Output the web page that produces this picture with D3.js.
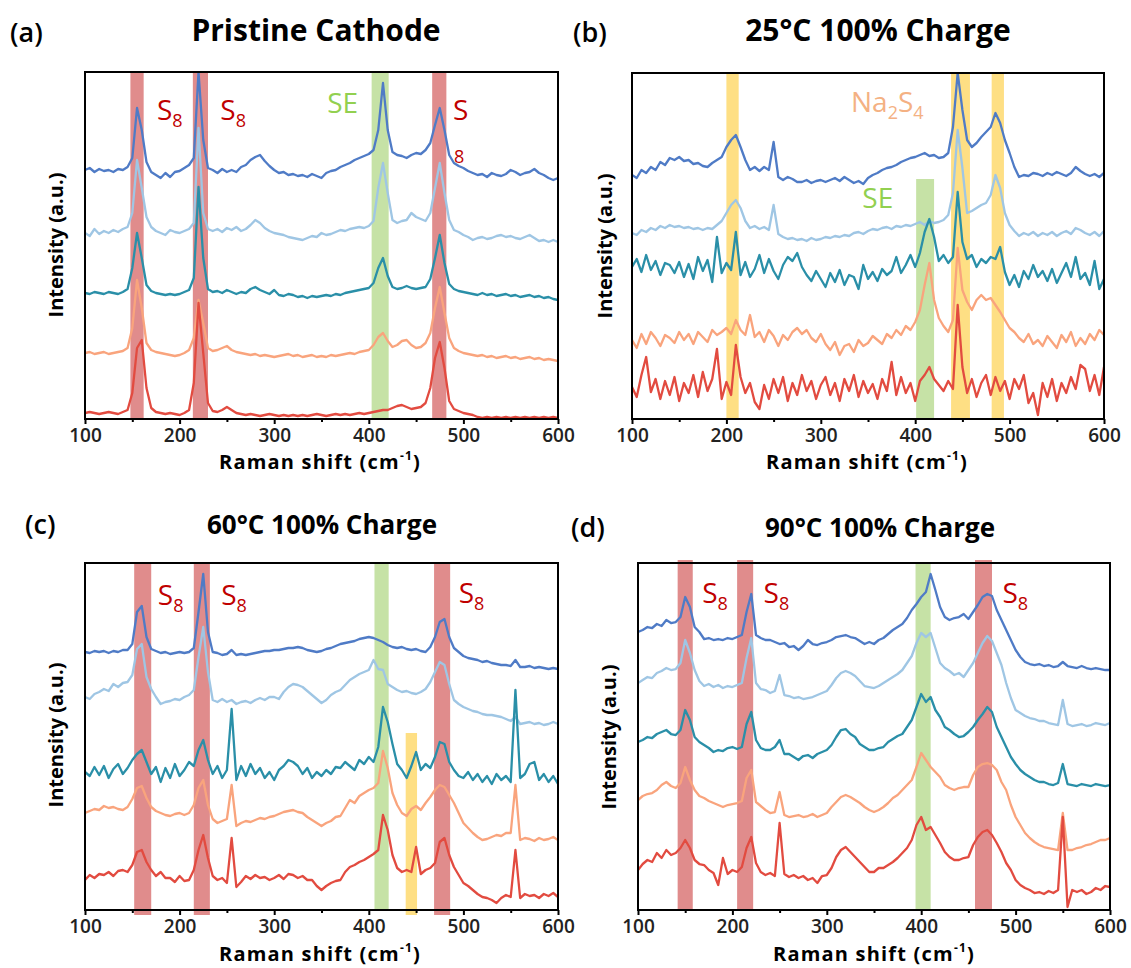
<!DOCTYPE html>
<html>
<head>
<meta charset="utf-8">
<script src="https://cdn.jsdelivr.net/npm/d3@7"></script>
<style>
  body { margin: 0; background: #fff; }
  text { font-family: "Open Sans", "DejaVu Sans", sans-serif; }
</style>
</head>
<body>
<div id="container"></div>
<script>
// Raman spectra, sampled every 5 cm-1 from 100 to 600
let shift = d3.range(100, 601, 5);
let traceColors = ["#4f7bc6", "#9fc6e4", "#2a8fa8", "#f9a47d", "#e24b40"];

// ---- (a) Pristine Cathode
let aDark = [0,2,-2,1,-1,0,-2,1,0,3, 12,62,40,8,-2,-5,-8,-3,-7,-2, -1,2,5,12,98,30,2,0,-3,1,
  -2,0,-2,3,5,10,13,15,9,4, 0,-3,-2,-5,-4,-6,-5,-7,-4,-6, -8,-3,-1,0,3,5,7,10,12,14,
  16,20,40,87,40,18,15,14,12,15, 17,16,20,27,45,62,40,15,7,4, 2,-1,-3,-5,-4,-7,-3,-5,-6,-4,
  0,-2,-5,-3,-2,1,-3,-5,-8,-10, -8];
let aLight = [0,-3,4,-1,2,0,3,1,4,6, 20,73,45,16,6,2,0,-2,3,1, 0,2,4,10,105,20,4,2,4,1,
  5,3,6,2,4,8,13,10,5,2, 0,-1,-2,-4,-5,-6,-7,-5,-3,-4, 0,-2,-1,1,3,2,4,5,6,5,
  7,12,45,70,40,13,10,12,13,20, 16,14,12,20,45,70,40,13,3,1, -2,-4,-7,-5,-4,-6,-5,-3,-2,-4,
  -3,-5,-6,-4,-2,-5,-8,-7,-9,-7, -9];
let aTeal = [0,-1,1,0,-1,1,0,-1,1,4, 25,60,35,8,2,0,-1,-2,-1,-2, -1,1,3,15,106,35,4,1,2,0,
  3,1,-1,1,0,4,6,3,1,-1, 3,-2,-3,-1,-2,-4,-3,-5,-3,-4, -3,-2,-3,-1,-2,0,1,2,3,4,
  5,10,25,35,17,6,4,5,7,5, 4,5,6,14,35,58,30,9,4,2, 1,0,-1,-2,0,-2,-1,-3,-2,-1,
  -3,-2,-4,-3,-2,-4,-3,-5,-4,-6, -7];
let aOrange = [0,1,-1,0,1,-1,0,1,2,5, 25,73,45,10,3,1,0,-1,-2,-3, -2,0,3,15,53,30,5,2,3,5,
  7,3,1,0,-1,-2,-1,-3,-2,-3, -4,-3,-2,-1,-3,-2,-4,-3,-2,-4, -3,-4,-2,-3,-2,-1,0,-1,1,2,
  3,8,16,20,12,6,8,12,13,8, 5,6,10,20,45,66,40,15,5,2, 0,-1,-2,-3,-2,-4,-3,-5,-4,-3,
  -5,-4,-6,-5,-4,-6,-5,-7,-6,-7, -8];
let aRed = [0,1,0,-1,0,1,0,-1,1,3, 20,65,73,25,5,1,0,-1,0,-1, -2,0,3,30,110,60,10,2,1,3,
  6,3,0,-1,-2,-1,-2,-3,-2,-1, -2,-3,-2,-3,-2,-3,-2,-3,-2,-1, -2,-3,-2,-1,-2,-1,-2,-1,0,-1,
  0,1,2,3,3,5,7,8,6,4, 5,6,10,25,55,71,45,12,4,2, 0,-1,-2,-4,-5,-4,-5,-4,-5,-4,
  -5,-4,-5,-4,-5,-4,-5,-4,-5,-4, -5];
let aOffsets = [249, 186, 126, 66, 6];

// ---- (b) 25 C 100% Charge
let bDark = [0,-3,5,2,8,5,13,10,17,15, 18,14,15,11,12,9,8,12,15,18, 28,35,40,28,15,5,8,4,8,5,
  33,-2,-5,-2,-4,-7,-7,-5,-8,-6, -5,-7,-5,-3,-6,-2,-5,-8,-6,-9, -3,0,2,5,7,8,10,13,15,17,
  18,20,22,19,20,17,18,22,48,102, 65,35,28,32,38,43,48,62,52,35, 22,8,-2,0,-1,2,1,-1,2,0,
  3,1,-1,2,8,4,1,-1,1,-2, 2];
let bLight = [0,-2,3,1,5,3,7,5,8,6, 7,5,6,4,5,3,5,4,8,12, 20,28,33,25,12,5,7,4,6,3,
  28,-1,-4,-6,-5,-7,-6,-8,-5,-7, -6,-4,-5,-3,-4,-2,-3,0,1,-1, 2,4,3,5,6,4,7,6,8,7,
  9,11,8,12,10,11,13,18,40,103, 65,20,22,25,28,30,38,58,45,20, 8,2,-3,0,-2,1,-3,0,-2,1,
  -3,0,2,-1,5,3,0,-2,1,-3, 2];
let bTeal = [0,8,-5,12,-3,6,-8,4,2,-6, 5,-10,3,-12,10,-4,7,-15,30,-6, 4,-3,35,-8,5,-10,-2,12,-6,8,
  -4,-12,2,10,6,14,0,-8,-14,-4, -12,-20,-6,-15,-3,-18,-8,-10,-22,2, -12,-5,-14,-2,-8,-4,10,-6,2,12,
  0,14,35,48,30,6,12,4,10,75, 25,8,12,0,8,4,10,8,20,-5, -18,-8,-20,-4,-12,2,-10,-4,-14,-2,
  -16,-6,4,-10,10,-12,-6,-18,6,-22, -12];
let bOrange = [0,-8,6,-4,8,2,-6,5,2,-3, 8,0,6,-4,8,3,-2,10,5,8, 12,6,20,10,5,25,3,8,-2,10,
  4,-6,5,0,8,12,6,10,2,-2, 6,-4,-10,-2,-15,-6,-4,-12,0,-6, -3,4,0,-4,6,2,10,5,14,10,
  18,30,55,77,40,22,14,8,20,92, 50,38,30,40,45,40,42,35,28,20, 12,8,2,-2,6,-4,0,-6,4,-2,
  -8,5,-2,8,-6,2,-4,6,0,10, 5];
let bRed = [0,-10,12,30,-5,8,-12,6,-8,10, -14,4,-6,12,-10,15,-4,8,38,-12, 5,-8,42,10,-6,4,-15,-22,2,-12,
  8,-6,10,-14,4,-8,12,-4,6,-12, 2,10,-8,4,-14,8,-4,12,-10,6, -6,3,-12,8,-4,25,-8,10,-6,4,
  -14,6,12,20,8,2,-4,6,-2,82, 20,-6,8,-10,4,12,-8,10,-4,6, -12,8,-2,12,-16,-6,-28,4,-10,8,
  -14,4,-6,10,-2,22,18,-4,12,-8, 20];
let bOffsets = [244, 186, 152, 79, 32];

// ---- (c) 60 C 100% Charge
let cDark = [0,-1,1,0,1,-1,1,0,2,2, 8,40,46,15,3,1,-1,0,-2,-1, 0,-1,0,4,40,78,20,0,-1,-3,
  -2,2,-3,-2,-3,-2,-1,0,1,1, 2,2,3,4,4,5,4,2,1,0, 1,3,4,6,8,9,10,11,13,14,
  15,14,12,10,7,5,4,5,3,2, 3,1,0,5,15,30,33,15,4,0, -4,-6,-7,-8,-10,-9,-11,-12,-13,-13,
  -14,-8,-15,-15,-14,-16,-15,-16,-17,-16, -17];
let cLight = [0,-2,3,5,8,6,13,10,14,15, 22,48,53,20,8,0,-7,-5,-4,-2, -3,0,2,7,40,70,25,-3,-5,-2,
  -5,-3,-7,-5,-4,-6,-3,-1,-3,0, 0,-2,5,10,13,12,10,6,2,-2, -6,-3,2,5,7,12,17,20,23,25,
  27,37,28,27,13,10,7,5,6,4, 3,5,8,15,25,35,32,13,-3,-7, -10,-12,-14,-15,-17,-18,-18,-19,-20,-22,
  -24,-20,-27,-26,-25,-27,-26,-28,-27,-25, -27];
let cTeal = [0,-4,5,-3,6,-6,3,8,-2,4, 12,18,22,10,-2,5,-10,4,-6,8, -4,2,10,6,22,32,12,-2,6,-6,
  2,63,-8,6,-4,8,-2,4,-6,0, -8,2,6,12,10,6,-2,4,-6,0, -4,2,-2,5,4,10,6,2,12,8,
  15,10,25,65,50,28,8,2,-6,6, 20,2,8,4,15,30,28,10,2,-4, -6,0,-8,-2,-10,-4,-12,-2,-8,-4,
  -10,82,-6,-2,8,10,-8,-2,-10,-4, -12];
let cOrange = [0,2,4,3,7,5,6,4,3,6, 14,25,27,15,6,2,0,-2,-3,-1, 0,-2,0,8,25,33,8,-6,-10,-8,
  -6,28,-13,-10,-8,-9,-7,-5,-6,-4, -3,-1,1,2,3,1,0,-4,-7,-10, -13,-10,-8,-4,-3,5,13,10,17,20,
  23,25,30,62,45,20,8,0,-3,4, 7,3,10,16,23,28,26,18,10,0, -10,-15,-20,-24,-27,-26,-24,-22,-23,-20,
  -20,28,-27,-25,-26,-28,-25,-27,-26,-24, -27];
let cRed = [0,5,2,6,5,8,4,9,10,8, 15,28,30,18,10,4,8,2,2,-2, 4,-1,0,10,30,45,22,4,0,2,
  -3,42,-7,-2,4,1,5,2,3,0, 2,5,1,6,5,2,4,0,0,-6, -10,-6,-3,-1,0,8,13,15,18,20,
  23,26,30,65,50,25,12,8,10,8, 33,6,10,12,17,38,42,25,13,5, -3,-6,-10,-14,-17,-18,-20,-23,-18,-15,
  -17,30,-18,-14,-16,-15,-18,-14,-16,-13, -17];
let cOffsets = [258, 213, 138, 97, 30];

// ---- (d) 90 C 100% Charge
let dDark = [0,2,5,4,8,6,12,9,10,15, 35,25,5,0,-7,-6,-8,-7,-8,-6, -7,-5,-3,20,38,-3,-6,-8,-8,-10,
  -12,-11,-15,-14,-18,-14,-8,-12,-13,-11, -10,-8,-5,-4,-3,-5,-6,-9,-12,-10, -12,-8,-6,-2,2,5,8,14,22,28,
  35,40,58,42,25,15,12,14,15,18, 13,20,27,35,38,36,22,12,2,-8, -18,-25,-30,-32,-33,-32,-34,-33,-35,-34,
  -30,-34,-35,-36,-34,-36,-37,-36,-37,-38, -38];
let dLight = [0,3,6,5,10,12,15,13,14,20, 43,30,13,2,-3,-1,-4,-2,-5,-3, -4,-2,0,25,45,0,-6,-7,-10,-8,
  8,-12,-13,-15,-14,-16,-15,-14,-12,-10, -8,-2,5,10,12,10,7,2,-3,-4, -5,-3,0,3,6,9,13,20,27,40,
  50,46,50,35,20,15,12,8,10,6, 13,20,30,40,47,42,30,18,0,-15, -27,-30,-33,-35,-36,-38,-38,-40,-41,-42,
  -17,-41,-43,-42,-41,-43,-42,-40,-41,-42, -40];
let dTeal = [0,2,5,4,8,10,12,8,7,12, 32,22,5,0,-3,-6,-10,-8,-9,-6, -5,-7,-5,18,30,2,-6,-8,-8,-5,
  2,-12,-12,-15,-18,-14,-13,-16,-12,-10, -8,-3,5,12,13,8,5,-2,-5,-8, -8,-6,-5,0,3,6,8,15,22,35,
  48,40,45,32,25,15,12,8,5,6, 10,15,22,28,35,30,15,5,-5,-15, -22,-28,-32,-35,-38,-40,-40,-42,-43,-41,
  -22,-42,-43,-44,-42,-43,-44,-42,-43,-44, -43];
let dOrange = [0,4,6,7,10,15,18,14,12,17, 33,20,10,4,2,-1,-3,-5,-7,-5, -4,-3,-1,22,30,-2,-6,-10,-13,-12,
  8,-15,-17,-16,-15,-17,-16,-14,-17,-15, -13,-7,-2,3,5,3,0,-3,-7,-10, -12,-10,-7,-3,2,5,10,15,20,33,
  47,40,33,28,23,15,12,10,12,13, 13,25,33,36,37,35,30,18,10,-5, -17,-25,-33,-38,-42,-45,-47,-48,-49,-50,
  -13,-50,-50,-48,-47,-45,-44,-42,-40,-40, -38];
let dRed = [0,6,10,8,17,12,20,15,17,22, 30,22,10,6,5,0,-3,-15,12,-4, 0,-2,3,22,33,7,-2,-5,-3,-6,
  47,-4,-7,-5,-8,-6,-10,-8,-13,-6, -5,2,13,20,23,18,13,8,3,-2, -2,2,2,5,8,12,17,22,30,45,
  53,40,43,35,27,18,13,10,10,12, 13,25,33,38,40,35,27,18,7,0, -10,-15,-18,-20,-23,-22,-24,-21,-23,-20,
  53,-37,-20,-22,-20,-24,-22,-18,-20,-16, -17];
let dOffsets = [278, 227, 168, 110, 40];

// highlight bands: [from, to, low, high, kind]
let aBands = [[148,162,0,347,"S"], [214,230,0,347,"S"], [403,421,0,347,"G"], [467,482,0,347,"S"]];
let bBands = [[200,213,0,346,"Y"], [438,458,0,346,"Y"], [481,494,0,346,"Y"], [401,420,0,240,"G"]];
let cBands = [[152,170,-5,347,"S"], [215,232,-5,347,"S"], [406,421,0,347,"G"], [469,486,-5,347,"S"], [439,451,-5,177,"Y"]];
let dBands = [[142,158,0,350,"S"], [205,222,0,350,"S"], [394,410,0,347,"G"], [457,475,0,350,"S"]];
let bandColors = { S: "#e08c8c", G: "#c6e2a6", Y: "#fedf84" };

// labels: [main, subscript, x (cm-1), y (units), kind]
let aLabels = [["S","8",176,299,"S"], ["S","8",243,299,"S"], ["SE","",356,306,"G"], ["S","",489,299,"S"], ["8","",490,256,"S8"]];
let bLabels = [["Na","2S4",332,307,"N"], ["SE","",344,211,"G"]];
let cLabels = [["S","8",177,305,"S"], ["S","8",244,305,"S"], ["S","8",495,307,"S"]];
let dLabels = [["S","8",168,307,"S"], ["S","8",233,307,"S"], ["S","8",486,307,"S"]];
let labelColors = { S: "#c00000", S8: "#c00000", G: "#92d050", N: "#f4b183" };

let majorTicks = [100, 200, 300, 400, 500, 600];
let minorTicks = [150, 250, 350, 450, 550];

let panels = [
  { tag: "(a)", title: "Pristine Cathode", titleSize: 30, left: 85, right: 558, top: 72, bottom: 419,
    traces: [aDark, aLight, aTeal, aOrange, aRed], offsets: aOffsets, bands: aBands, labels: aLabels,
    tagX: 10, tagY: 42, titleX: 316, titleY: 41, yTitleX: 56, yTitleY: 245, xTitleX: 320, xTitleY: 469 },
  { tag: "(b)", title: "25°C 100% Charge", titleSize: 30, left: 632, right: 1104, top: 73, bottom: 419,
    traces: [bDark, bLight, bTeal, bOrange, bRed], offsets: bOffsets, bands: bBands, labels: bLabels,
    tagX: 573, tagY: 42, titleX: 878, titleY: 41, yTitleX: 605, yTitleY: 246, xTitleX: 867, xTitleY: 469 },
  { tag: "(c)", title: "60°C 100% Charge", titleSize: 26, left: 85, right: 558, top: 563, bottom: 910,
    traces: [cDark, cLight, cTeal, cOrange, cRed], offsets: cOffsets, bands: cBands, labels: cLabels,
    tagX: 25, tagY: 534, titleX: 322, titleY: 534, yTitleX: 56, yTitleY: 735, xTitleX: 320, xTitleY: 961 },
  { tag: "(d)", title: "90°C 100% Charge", titleSize: 26, left: 638, right: 1110, top: 563, bottom: 910,
    traces: [dDark, dLight, dTeal, dOrange, dRed], offsets: dOffsets, bands: dBands, labels: dLabels,
    tagX: 571, tagY: 537, titleX: 880, titleY: 537, yTitleX: 609, yTitleY: 737, xTitleX: 874, xTitleY: 961 }
];

let svg = d3.select("#container").append("svg")
  .attr("width", 1131).attr("height", 968);

panels.forEach(function(p, pi) {
  let x = d3.scaleLinear().domain([100, 600]).range([p.left, p.right]);
  let y = d3.scaleLinear().domain([0, p.bottom - p.top]).range([p.bottom, p.top]);
  let g = svg.append("g");

  // bands behind the spectra
  g.selectAll("rect.band").data(p.bands).enter().append("rect")
    .attr("class", "band")
    .attr("x", d => x(d[0]))
    .attr("width", d => x(d[1]) - x(d[0]))
    .attr("y", d => y(d[3]))
    .attr("height", d => y(d[2]) - y(d[3]))
    .style("fill", d => bandColors[d[4]]);

  // clip for spectra
  svg.append("clipPath").attr("id", "clip" + pi)
    .append("rect").attr("x", p.left).attr("y", p.top - 1)
    .attr("width", p.right - p.left).attr("height", p.bottom - p.top + 1);

  p.traces.forEach(function(vals, ti) {
    let line = d3.line()
      .x((d, i) => x(shift[i]))
      .y(d => y(d + p.offsets[ti]));
    g.append("path")
      .datum(vals)
      .attr("d", line)
      .attr("clip-path", "url(#clip" + pi + ")")
      .style("fill", "none")
      .style("stroke", traceColors[ti])
      .style("stroke-width", 2.3)
      .style("stroke-linejoin", "round");
  });

  // frame
  g.append("rect")
    .attr("x", p.left).attr("y", p.top)
    .attr("width", p.right - p.left).attr("height", p.bottom - p.top)
    .style("fill", "none").style("stroke", "#000").style("stroke-width", 2);

  // x axis
  let ax = g.append("g").attr("transform", "translate(0," + p.bottom + ")")
    .call(d3.axisBottom(x).tickValues(majorTicks).tickSize(5).tickPadding(5).tickFormat(d3.format("d")));
  ax.select(".domain").remove();
  ax.selectAll("line").style("stroke", "#000").style("stroke-width", 2);
  ax.selectAll("text").style("font-size", "19px").style("font-weight", 600).style("fill", "#222");
  let axm = g.append("g").attr("transform", "translate(0," + p.bottom + ")")
    .call(d3.axisBottom(x).tickValues(minorTicks).tickSize(3).tickFormat(""));
  axm.select(".domain").remove();
  axm.selectAll("line").style("stroke", "#000").style("stroke-width", 2);

  // annotations
  p.labels.forEach(function(l) {
    let t = g.append("text")
      .attr("x", x(l[2])).attr("y", y(l[3]))
      .style("fill", labelColors[l[4]])
      .style("font-size", l[4] == "S8" ? "18px" : "28px");
    if (l[4] == "N") {
      t.append("tspan").text("Na");
      t.append("tspan").attr("dy", 7).style("font-size", "18px").text("2");
      t.append("tspan").attr("dy", -7).text("S");
      t.append("tspan").attr("dy", 7).style("font-size", "18px").text("4");
    } else {
      t.append("tspan").text(l[0]);
      if (l[1]) t.append("tspan").attr("dy", 7).style("font-size", "18px").text(l[1]);
    }
  });

  // titles
  svg.append("text").attr("x", p.tagX).attr("y", p.tagY)
    .style("font-size", "27px").style("font-weight", 600).text(p.tag);
  svg.append("text").attr("x", p.titleX).attr("y", p.titleY)
    .attr("text-anchor", "middle")
    .style("font-size", p.titleSize + "px").style("font-weight", 700).text(p.title);

  svg.append("text")
    .attr("transform", "translate(" + p.yTitleX + "," + p.yTitleY + ") rotate(-90)")
    .attr("text-anchor", "middle").attr("dy", "0.35em")
    .style("font-size", "20px").style("font-weight", 700)
    .text("Intensity (a.u.)");

  let xt = svg.append("text").attr("x", p.xTitleX).attr("y", p.xTitleY)
    .attr("text-anchor", "middle")
    .style("font-size", "20px").style("font-weight", 700).style("letter-spacing", "1.2px");
  xt.append("tspan").text("Raman shift (cm");
  xt.append("tspan").attr("dy", -9).style("font-size", "12px").text("-1");
  xt.append("tspan").attr("dy", 9).text(")");
});
</script>
</body>
</html>
